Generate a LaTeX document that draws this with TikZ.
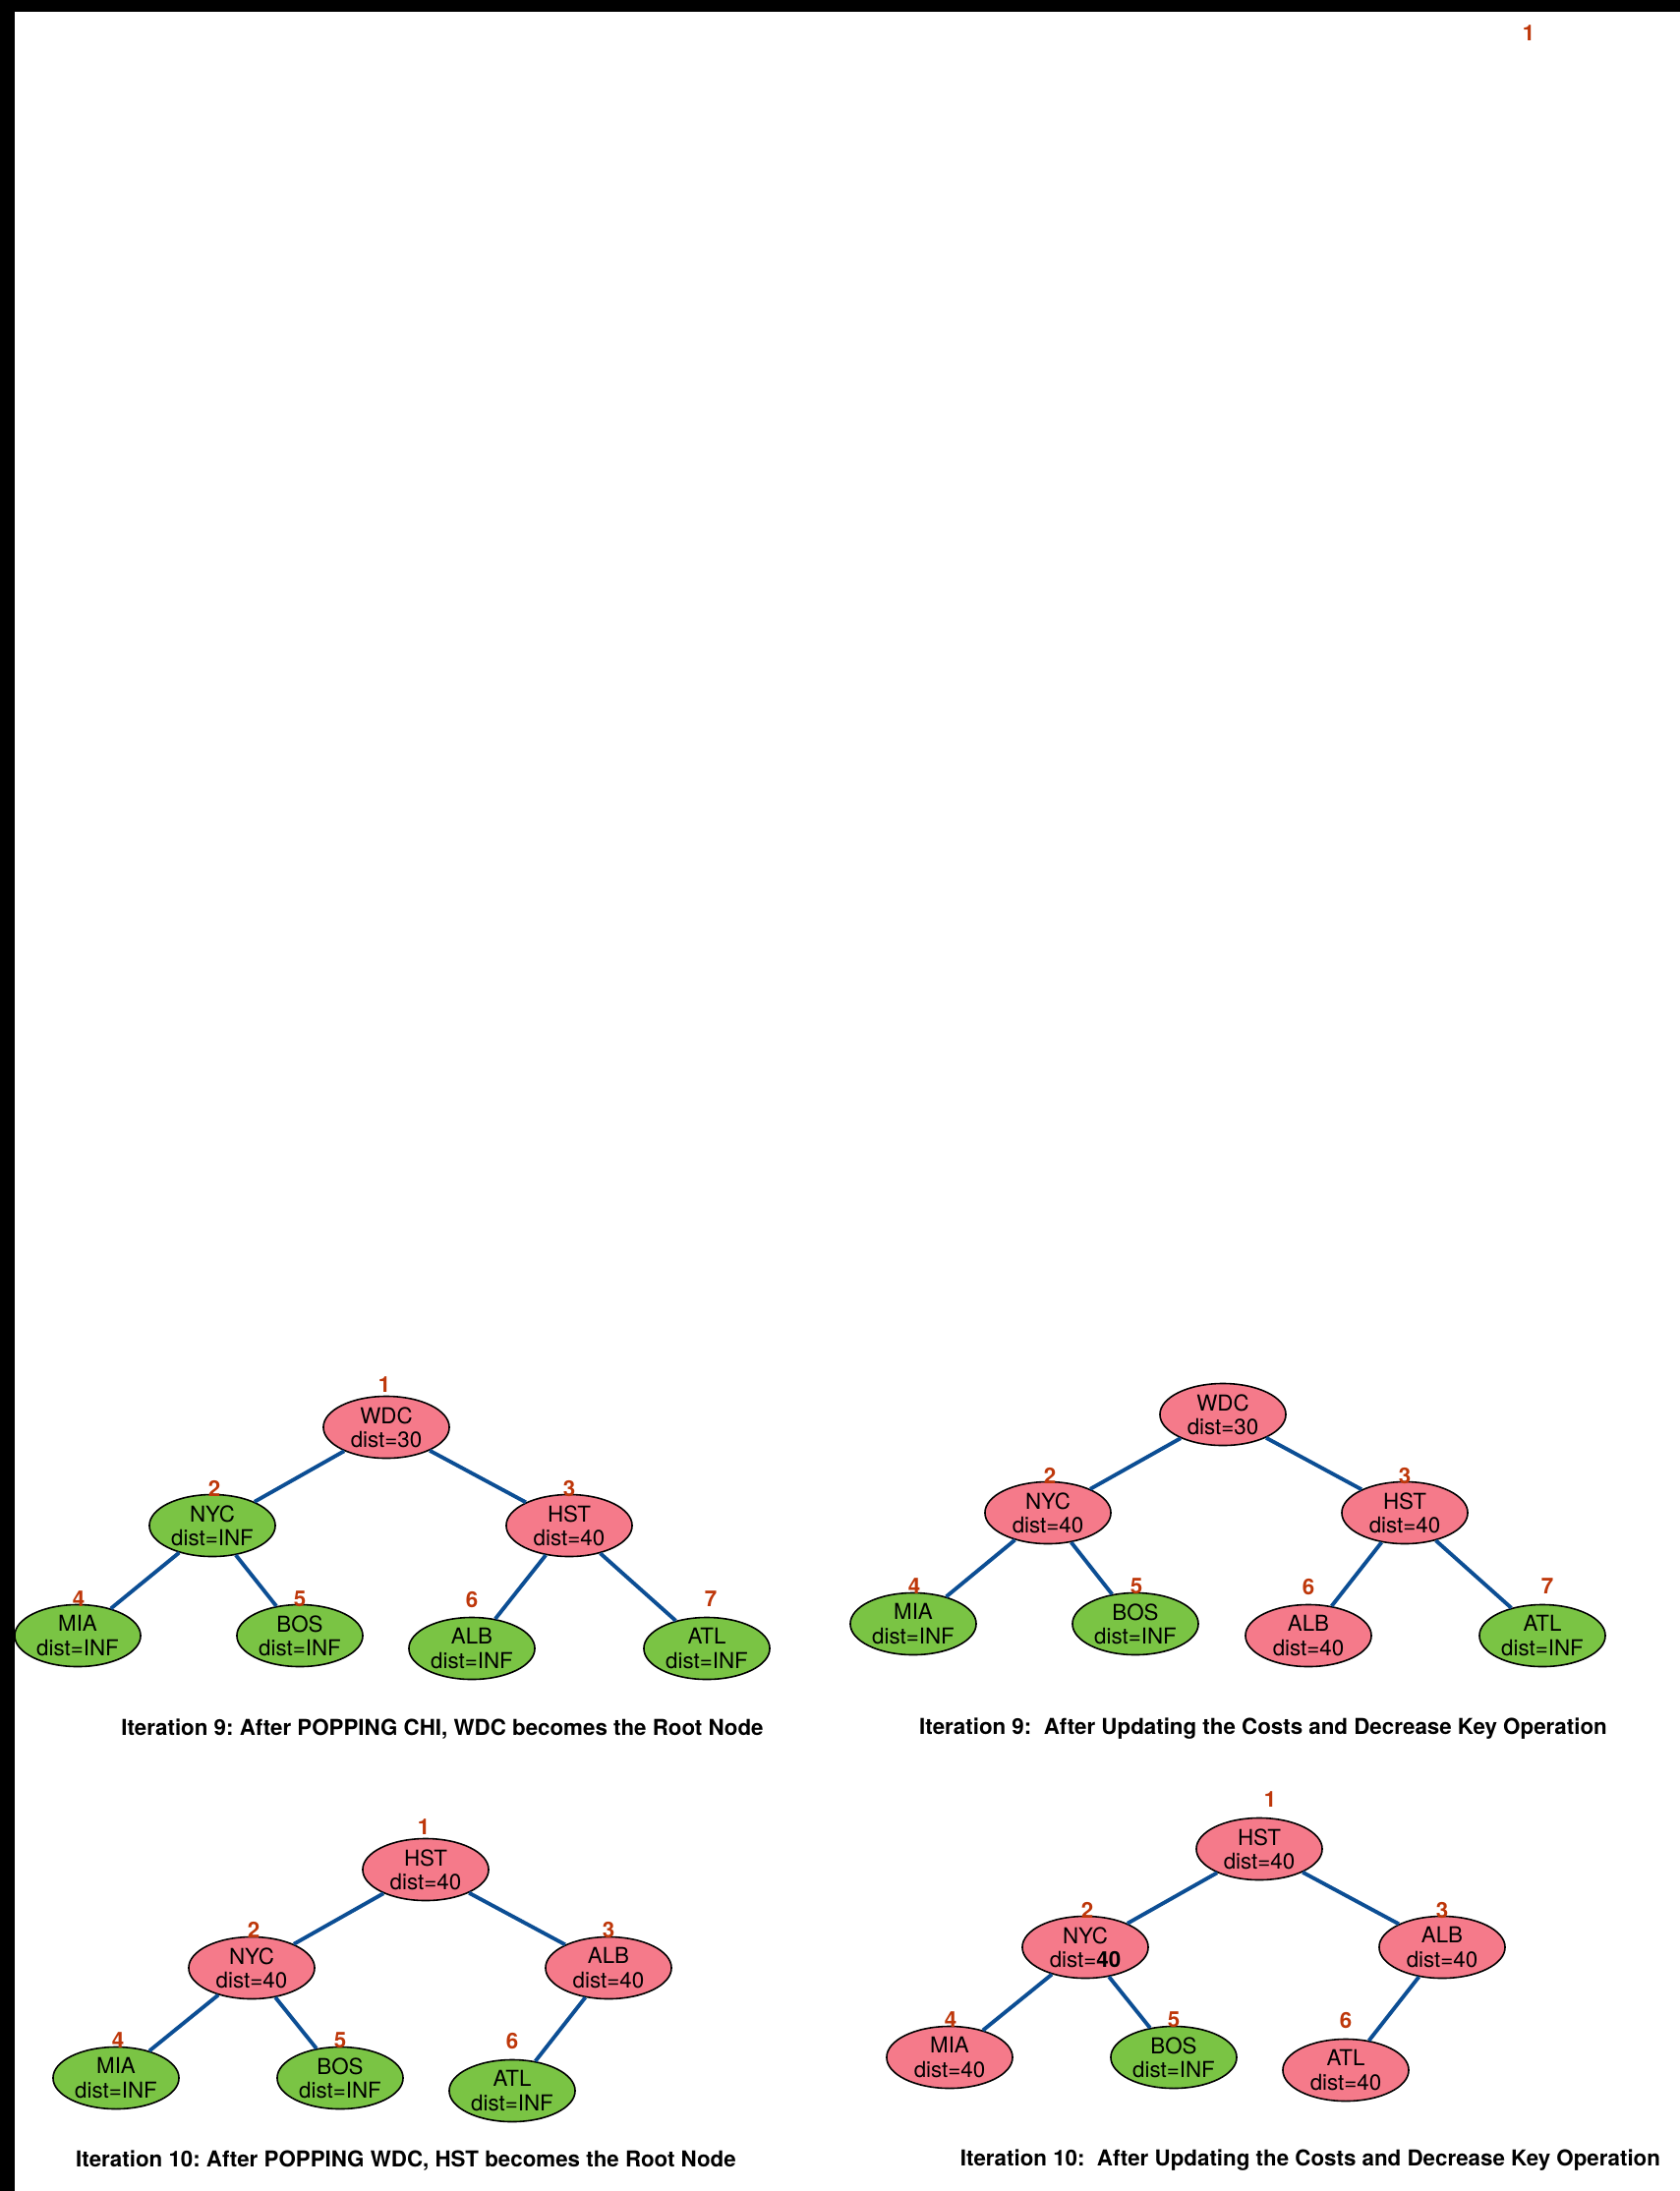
\documentclass[tikz,border=0pt]{standalone}
\usepackage{fontspec}
\setmainfont{TeX Gyre Heros}
\frenchspacing
\usetikzlibrary{shapes.geometric}

\definecolor{heappink}{RGB}{245,122,138}
\definecolor{heapgreen}{RGB}{122,196,68}
\definecolor{edgeblue}{RGB}{12,78,148}
\definecolor{idxred}{RGB}{190,55,10}

\tikzset{
  city/.style={ellipse,draw=black,line width=0.45pt,minimum width=1.28cm,minimum height=0.63cm,
    inner sep=0pt,align=center,font=\fontsize{6.35}{6.9}\selectfont},
  settled/.style={city,fill=heappink},
  pending/.style={city,fill=heapgreen},
  idx/.style={text=idxred,inner sep=0pt,font=\fontsize{6.35}{7}\selectfont\bfseries},
  heapedge/.style={draw=edgeblue,line width=1.1pt},
  caption/.style={inner sep=0pt,font=\fontsize{6.35}{7}\selectfont\bfseries}
}

\begin{document}
\begin{tikzpicture}[x=0.01cm,y=-0.01cm]
  \useasboundingbox (0,0) rectangle (1709,2229);
  \fill[black] (0,0) rectangle (1709,12);
  \fill[black] (0,0) rectangle (15,2229);
  % stray index at the top
  \node[idx] (stray) at (1555,34) {1};

  % iteration 9, after popping
  \node[settled] (wdcA) at (393,1452) {WDC\\dist=30};
  \node[pending] (nycA) at (216,1552) {NYC\\dist=INF};
  \node[settled] (hstA) at (579,1552) {HST\\dist=40};
  \node[pending] (miaA) at (79,1664) {MIA\\dist=INF};
  \node[pending] (bosA) at (305,1664) {BOS\\dist=INF};
  \node[pending] (albA) at (480,1677) {ALB\\dist=INF};
  \node[pending] (atlA) at (719,1677) {ATL\\dist=INF};
  \draw[heapedge] (wdcA) -- (nycA);
  \draw[heapedge] (wdcA) -- (hstA);
  \draw[heapedge] (nycA) -- (miaA);
  \draw[heapedge] (nycA) -- (bosA);
  \draw[heapedge] (hstA) -- (albA);
  \draw[heapedge] (hstA) -- (atlA);
  \node[idx] (i1A) at (391,1409) {1};
  \node[idx] (i2A) at (218,1514) {2};
  \node[idx] (i3A) at (579,1514) {3};
  \node[idx] (i4A) at (80,1627) {4};
  \node[idx] (i5A) at (305,1627) {5};
  \node[idx] (i6A) at (480,1627) {6};
  \node[idx] (i7A) at (723,1627) {7};
  \node[caption] (capA) at (450,1759) {Iteration 9: After POPPING CHI, WDC becomes the Root Node};

  % iteration 9, after decrease key
  \node[settled] (wdcB) at (1244,1439) {WDC\\dist=30};
  \node[settled] (nycB) at (1066,1539) {NYC\\dist=40};
  \node[settled] (hstB) at (1429,1539) {HST\\dist=40};
  \node[pending] (miaB) at (929,1652) {MIA\\dist=INF};
  \node[pending] (bosB) at (1155,1652) {BOS\\dist=INF};
  \node[settled] (albB) at (1331,1664) {ALB\\dist=40};
  \node[pending] (atlB) at (1569,1664) {ATL\\dist=INF};
  \draw[heapedge] (wdcB) -- (nycB);
  \draw[heapedge] (wdcB) -- (hstB);
  \draw[heapedge] (nycB) -- (miaB);
  \draw[heapedge] (nycB) -- (bosB);
  \draw[heapedge] (hstB) -- (albB);
  \draw[heapedge] (hstB) -- (atlB);
  \node[idx] (i2B) at (1068,1501) {2};
  \node[idx] (i3B) at (1429,1501) {3};
  \node[idx] (i4B) at (930,1614) {4};
  \node[idx] (i5B) at (1156,1614) {5};
  \node[idx] (i6B) at (1331,1614) {6};
  \node[idx] (i7B) at (1574,1614) {7};
  \node[caption] (capB) at (1285,1759) {Iteration 9:~ After Updating the Costs and Decrease Key Operation};

  % iteration 10, after popping
  \node[settled] (hstC) at (433,1902) {HST\\dist=40};
  \node[settled] (nycC) at (256,2002) {NYC\\dist=40};
  \node[settled] (albC) at (619,2002) {ALB\\dist=40};
  \node[pending] (miaC) at (118,2114) {MIA\\dist=INF};
  \node[pending] (bosC) at (346,2114) {BOS\\dist=INF};
  \node[pending] (atlC) at (521,2127) {ATL\\dist=INF};
  \draw[heapedge] (hstC) -- (nycC);
  \draw[heapedge] (hstC) -- (albC);
  \draw[heapedge] (nycC) -- (miaC);
  \draw[heapedge] (nycC) -- (bosC);
  \draw[heapedge] (albC) -- (atlC);
  \node[idx] (i1C) at (431,1859) {1};
  \node[idx] (i2C) at (258,1963) {2};
  \node[idx] (i3C) at (619,1963) {3};
  \node[idx] (i4C) at (120,2076) {4};
  \node[idx] (i5C) at (346,2076) {5};
  \node[idx] (i6C) at (521,2076) {6};
  \node[caption] (capC) at (413,2198) {Iteration 10: After POPPING WDC, HST becomes the Root Node};

  % iteration 10, after decrease key
  \node[settled] (hstD) at (1281,1881) {HST\\dist=40};
  \node[settled] (nycD) at (1104,1981) {NYC\\dist=\textbf{40}};
  \node[settled] (albD) at (1467,1981) {ALB\\dist=40};
  \node[settled] (miaD) at (966,2093) {MIA\\dist=40};
  \node[pending] (bosD) at (1194,2093) {BOS\\dist=INF};
  \node[settled] (atlD) at (1369,2106) {ATL\\dist=40};
  \draw[heapedge] (hstD) -- (nycD);
  \draw[heapedge] (hstD) -- (albD);
  \draw[heapedge] (nycD) -- (miaD);
  \draw[heapedge] (nycD) -- (bosD);
  \draw[heapedge] (albD) -- (atlD);
  \node[idx] (i1D) at (1292,1831) {1};
  \node[idx] (i2D) at (1106,1943) {2};
  \node[idx] (i3D) at (1467,1943) {3};
  \node[idx] (i4D) at (967,2055) {4};
  \node[idx] (i5D) at (1194,2055) {5};
  \node[idx] (i6D) at (1369,2055) {6};
  \node[caption] (capD) at (1333,2198) {Iteration 10:~ After Updating the Costs and Decrease Key Operation};
\end{tikzpicture}
\end{document}
